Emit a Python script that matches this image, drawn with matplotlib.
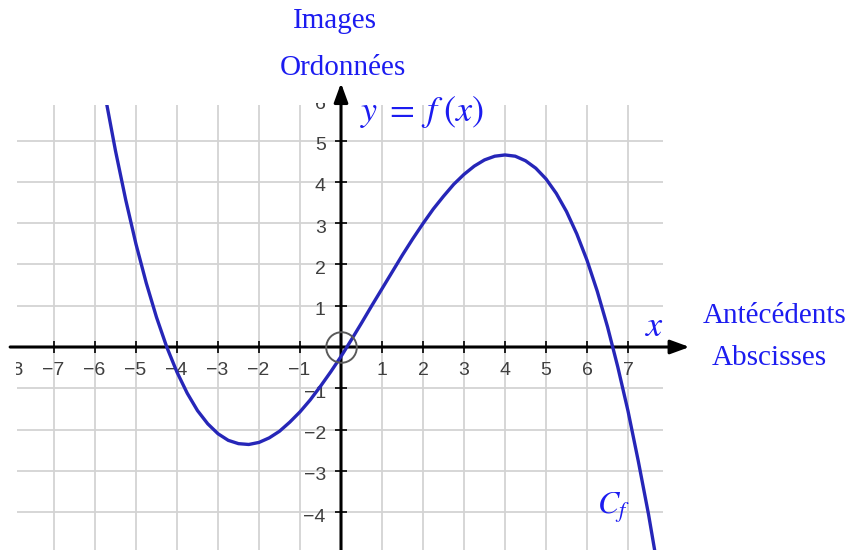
import matplotlib
matplotlib.use("Agg")
import matplotlib.pyplot as plt
from matplotlib.patches import Rectangle
from matplotlib.transforms import Bbox, TransformedBbox

# Points of the curve C_f, read along x every 0.25
x_vals = [-5.75, -5.5, -5.25, -5.0, -4.75, -4.5, -4.25, -4.0, -3.75, -3.5,
          -3.25, -3.0, -2.75, -2.5, -2.25, -2.0, -1.75, -1.5, -1.25, -1.0,
          -0.75, -0.5, -0.25, 0.0, 0.25, 0.5, 0.75, 1.0, 1.25, 1.5,
          1.75, 2.0, 2.25, 2.5, 2.75, 3.0, 3.25, 3.5, 3.75, 4.0,
          4.25, 4.5, 4.75, 5.0, 5.25, 5.5, 5.75, 6.0, 6.25, 6.5,
          6.75, 7.0, 7.25, 7.5, 7.75]
y_vals = [6.07, 4.75, 3.56, 2.49, 1.55, 0.72, 0.0, -0.61, -1.12, -1.54,
          -1.86, -2.10, -2.26, -2.34, -2.36, -2.31, -2.20, -2.04, -1.82, -1.57,
          -1.28, -0.95, -0.60, -0.23, 0.17, 0.58, 1.00, 1.41, 1.82, 2.23,
          2.62, 2.99, 3.34, 3.65, 3.94, 4.18, 4.38, 4.53, 4.62, 4.65,
          4.62, 4.51, 4.33, 4.07, 3.72, 3.28, 2.74, 2.10, 1.35, 0.49,
          -0.48, -1.55, -2.76, -4.05, -5.50]

x_ticks = [-8, -7, -6, -5, -4, -3, -2, -1, 1, 2, 3, 4, 5, 6, 7]
y_ticks = [-4, -3, -2, -1, 1, 2, 3, 4, 5, 6]
grid_x = [-7, -6, -5, -4, -3, -2, -1, 1, 2, 3, 4, 5, 6, 7]
grid_y = [-4, -3, -2, -1, 1, 2, 3, 4, 5]

W, H = 852, 550
fig = plt.figure(figsize=(W / 100, H / 100), dpi=100)
fig.patch.set_facecolor("white")
ax = fig.add_axes([0, 0, 1, 1])
ax.set_xlim(-8.317, 12.463)
ax.set_ylim(-4.915, 8.402)
ax.axis("off")

# visible window of the graphing view
VX0, VX1, VY0, VY1 = -7.9, 7.85, -4.95, 5.86
LX0, LY1 = -7.92, 5.91

grid_kw = dict(color="#d3d3d3", lw=1.3, zorder=1)
ax.vlines(grid_x, VY0, VY1, **grid_kw)
ax.hlines(grid_y, VX0, VX1, **grid_kw)

# axes with arrowheads
arrow_kw = dict(arrowstyle="-|>,head_length=1.15,head_width=0.42",
                color="black", lw=2.2, shrinkA=0, shrinkB=0)
ax.annotate("", xy=(8.5, 0), xytext=(-8.07, 0), arrowprops=arrow_kw, zorder=4)
ax.annotate("", xy=(0, 6.39), xytext=(0, -5.2), arrowprops=arrow_kw, zorder=4)

# tick marks
ax.vlines([t for t in x_ticks if t > -8], -0.14, 0.14, color="black", lw=1.2, zorder=4)
ax.hlines([t for t in y_ticks if t < 6], -0.15, 0.15, color="black", lw=1.2, zorder=4)

# tick labels, clipped to the view window
label_box = TransformedBbox(Bbox([[LX0, -10], [20, LY1]]), ax.transData)
tick_font = dict(family="Liberation Sans", size=14, color="#3f3f3f")
for t in x_ticks:
    lab = ax.text(t - (0.03 if t < 0 else 0), -0.58, f"{t}".replace("-", "\u2212"),
                  ha="center", va="center", zorder=3, **tick_font)
    lab.set_clip_box(label_box)
    lab.set_clip_on(True)
for t in y_ticks:
    lab = ax.text(-0.37, t - 0.12, f"{t}".replace("-", "\u2212"),
                  ha="right", va="center", zorder=3, **tick_font)
    lab.set_clip_box(label_box)
    lab.set_clip_on(True)

# the curve
curve, = ax.plot(x_vals, y_vals, color="#2626b8", lw=2.4, zorder=5,
                 solid_capstyle="round")
curve.set_clip_path(Rectangle((VX0, VY0 - 1), VX1 - VX0, VY1 - VY0 + 1,
                              transform=ax.transData))

# open circle at the origin
ax.plot([0], [0], marker="o", ms=22, mfc="none", mec="#5a5a5a", mew=1.4, zorder=6)

# captions
blue = "#1c1cf0"
serif = dict(family="Liberation Serif", size=21, color=blue)
plt.rcParams["mathtext.fontset"] = "stix"


def ftext(px, py, s, **kw):
    return fig.text(px / W, 1 - py / H, s, **kw)


ftext(335, 28, "Images", ha="center", va="baseline", **serif)
ftext(342.5, 75, "Ordonnées", ha="center", va="baseline", **serif)
ftext(703, 323, "Antécédents", ha="left", va="baseline", **serif)
ftext(712, 365, "Abscisses", ha="left", va="baseline", **serif)
ftext(360, 112, r"$y\;=\;f\;(x)$", ha="left", va="center", size=26, color=blue)
ftext(655, 326, r"$x$", ha="center", va="center", size=26, color=blue)
ftext(597, 508, r"$C_f$", ha="left", va="center", size=23, color=blue)

fig.savefig("out.png", dpi=100, facecolor="white")
